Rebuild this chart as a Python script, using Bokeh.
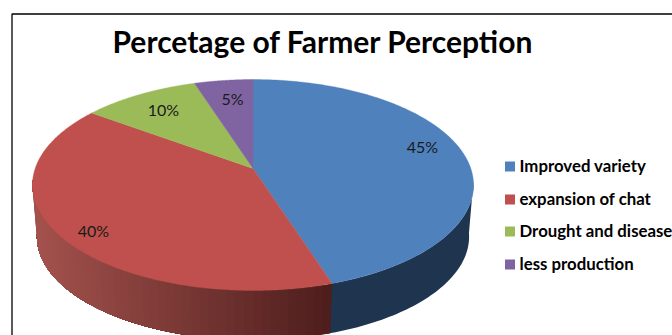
import numpy as np
from bokeh.core.properties import value
from bokeh.embed import file_html
from bokeh.models import Range1d
from bokeh.plotting import figure
from bokeh.resources import INLINE

# Chart data
title = "Percetage of Farmer Perception"
categories = ["Improved variety", "expansion of chat", "Drought and disease", "less production"]
shares = [45, 40, 10, 5]
colors = ["#4F81BD", "#C0504D", "#9BBB59", "#8064A2"]

# Page layout, in pixels
W, H = 672, 335
APEX_X, APEX_Y = 252.5, 168.0
RADIUS_X, RADIUS_Y = 217.8, 102.9
TILT = 0.1564            # perspective strength of the receding disc
DEPTH = 52.0             # height of the cylinder wall
BASE_SCALE = 0.98        # the lower rim is slightly smaller than the upper
FONT = "Lato"
label_anchor = [(422, 145.5), (93, 229.5), (163, 108.5), (232, 97.5)]
legend_rows = [166, 199, 231, 264]


def rim(theta_deg, scale=1.0, drop=0.0):
    """Project points of the unit circle (clockwise from 12 o'clock) to the page."""
    t = np.radians(theta_deg)
    cx, cy = np.sin(t), np.cos(t)
    w = 1 + TILT * cy
    return (APEX_X + scale * RADIUS_X * cx / w,
            APEX_Y + drop - scale * RADIUS_Y * cy / w)


def wall_outline(start, stop):
    """Closed outline of the cylinder wall between two angles."""
    a = np.linspace(start, stop, 60)
    tx, ty = rim(a)
    bx, by = rim(a[::-1], BASE_SCALE, DEPTH)
    return np.r_[tx, bx], np.r_[ty, by]


p = figure(width=W, height=H, output_backend="svg", toolbar_location=None,
           x_range=Range1d(0, W), y_range=Range1d(H, 0),
           min_border=0, outline_line_color=None,
           background_fill_color="white", border_fill_color="white")
p.axis.visible = False
p.grid.visible = False

# Chart frame: left and top edges are the only ones inside the page
p.line([11.5, 11.5, W], [H, 13.5, 13.5], line_color="black", line_width=1.3)

edges = np.cumsum([0] + shares) * 360 / sum(shares)

# Blue wall is a flat dark tone
bx, by = wall_outline(97, edges[1] + 1)
p.patch(bx, by, fill_color="#1F344F", line_color=None)

# Red wall darkens steadily toward the front; each strip reaches under the next
# one so that no hairline seams show between them
dark = np.array([0x4E, 0x1E, 0x1D])
light = np.array([0xA3, 0x52, 0x4D])
steps = np.arange(edges[1], 264, 2.0)
xs, ys, fill = [], [], []
for a in steps:
    x, y = wall_outline(a, 264)
    xs.append(x)
    ys.append(y)
    mid_x = rim(a + 1.0)[0]
    f = np.clip((330 - mid_x) / (330 - 37), 0, 1)
    rgb = dark + (light - dark) * f
    fill.append("#%02X%02X%02X" % tuple(int(v) for v in rgb))
p.patches(xs, ys, fill_color=fill, line_color=None)

# Top face of the pie
for start, stop, color in zip(edges[:-1], edges[1:], colors):
    a = np.linspace(start, stop, 160)
    x, y = rim(a)
    p.patch(np.r_[APEX_X, x], np.r_[APEX_Y, y], fill_color=color, line_color=color, line_width=0.4)

# Percentage labels
p.text([q[0] for q in label_anchor], [q[1] for q in label_anchor],
       text=[f"{s}%" for s in shares], text_font=value(FONT), text_font_size="16px",
       text_color="#1A1A1A", text_align="center", text_baseline="middle")

# Title
p.text([322.5], [40.5], text=[title], text_font=value(FONT), text_font_style="bold",
       text_font_size="30px", text_color="black", text_align="center", text_baseline="middle")

# Legend
p.rect([509.5] * 4, legend_rows, width=10, height=10, fill_color=colors, line_color=None)
p.text([519] * 4, [r - 1 for r in legend_rows], text=categories, text_font=value(FONT),
       text_font_style="bold", text_font_size="16.8px", text_color="black",
       text_align="left", text_baseline="middle")

open("out.html", "w").write(file_html(p, INLINE))
